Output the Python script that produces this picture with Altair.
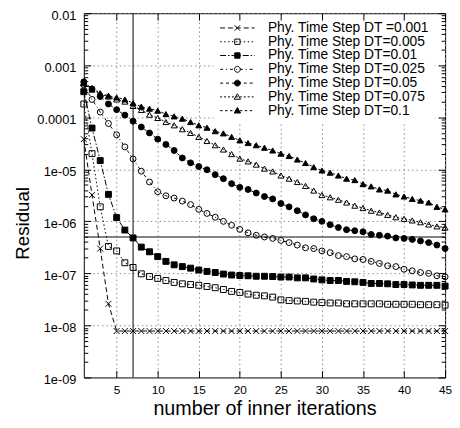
import altair as alt
import pandas as pd

FONT = "Liberation Sans"

iterations = list(range(1, 46))

series_names = [
    "Phy. Time Step DT =0.001",
    "Phy. Time Step DT=0.005",
    "Phy. Time Step DT=0.01",
    "Phy. Time Step DT=0.025",
    "Phy. Time Step DT=0.05",
    "Phy. Time Step DT=0.075",
    "Phy. Time Step DT=0.1",
]

dt_0001 = [3.8e-5, 3.2e-6, 3.0e-7, 2.6e-8, 7.8e-9, 7.8e-9, 7.8e-9, 7.8e-9, 7.8e-9, 7.8e-9,
           7.8e-9, 7.8e-9, 7.8e-9, 7.8e-9, 7.8e-9, 7.8e-9, 7.8e-9, 7.8e-9, 7.8e-9, 7.8e-9,
           7.8e-9, 7.8e-9, 7.8e-9, 7.8e-9, 7.8e-9, 7.8e-9, 7.8e-9, 7.8e-9, 7.8e-9, 7.8e-9,
           7.8e-9, 7.8e-9, 7.8e-9, 7.8e-9, 7.8e-9, 7.8e-9, 7.8e-9, 7.8e-9, 7.8e-9, 7.8e-9,
           7.8e-9, 7.8e-9, 7.8e-9, 7.8e-9, 7.8e-9]
dt_0005 = [1.8e-4, 2.0e-5, 1.9e-6, 3.3e-7, 2.7e-7, 1.6e-7, 1.3e-7, 9.8e-8, 8.7e-8, 8.0e-8,
           7.3e-8, 6.7e-8, 6.3e-8, 6.1e-8, 5.9e-8, 5.6e-8, 5.3e-8, 4.9e-8, 4.5e-8, 4.3e-8,
           4.0e-8, 3.8e-8, 3.7e-8, 3.5e-8, 3.1e-8, 3.0e-8, 2.95e-8, 2.9e-8, 2.8e-8, 2.75e-8,
           2.7e-8, 2.7e-8, 2.6e-8, 2.6e-8, 2.6e-8, 2.6e-8, 2.6e-8, 2.55e-8, 2.55e-8, 2.55e-8,
           2.55e-8, 2.5e-8, 2.5e-8, 2.5e-8, 2.45e-8]
dt_001 = [3.1e-4, 6.2e-5, 1.47e-5, 3.3e-6, 1.18e-6, 6.8e-7, 4.8e-7, 3.2e-7, 2.6e-7, 2.1e-7,
          1.7e-7, 1.46e-7, 1.35e-7, 1.26e-7, 1.16e-7, 1.09e-7, 1.04e-7, 9.7e-8, 9.3e-8, 9.1e-8,
          9.0e-8, 8.8e-8, 8.8e-8, 8.7e-8, 8.5e-8, 8.5e-8, 8.2e-8, 8.2e-8, 7.8e-8, 7.5e-8,
          7.3e-8, 7.3e-8, 7.0e-8, 6.9e-8, 6.7e-8, 6.4e-8, 6.4e-8, 6.3e-8, 6.1e-8, 6.1e-8,
          6.0e-8, 5.9e-8, 5.9e-8, 5.9e-8, 5.7e-8]
dt_0025 = [4.2e-4, 2.2e-4, 1.26e-4, 7.6e-5, 4.6e-5, 2.7e-5, 1.58e-5, 9.2e-6, 5.7e-6, 3.7e-6,
           3.1e-6, 2.8e-6, 2.45e-6, 2.1e-6, 1.7e-6, 1.42e-6, 1.2e-6, 1.0e-6, 8.4e-7, 7.0e-7,
           6.0e-7, 5.4e-7, 5.0e-7, 4.7e-7, 4.3e-7, 3.9e-7, 3.5e-7, 3.1e-7, 3.0e-7, 2.7e-7,
           2.5e-7, 2.2e-7, 2.1e-7, 1.9e-7, 1.85e-7, 1.7e-7, 1.55e-7, 1.4e-7, 1.35e-7, 1.2e-7,
           1.12e-7, 1.04e-7, 1.0e-7, 9.0e-8, 8.6e-8]
dt_005 = [4.8e-4, 3.5e-4, 2.5e-4, 1.8e-4, 1.4e-4, 1.1e-4, 8.4e-5, 6.5e-5, 5.0e-5, 3.8e-5,
          3.0e-5, 2.3e-5, 1.65e-5, 1.33e-5, 1.13e-5, 9.8e-6, 7.9e-6, 6.6e-6, 5.3e-6, 4.5e-6,
          4.1e-6, 3.5e-6, 3.0e-6, 2.7e-6, 2.2e-6, 1.9e-6, 1.6e-6, 1.33e-6, 1.12e-6, 1.0e-6,
          8.6e-7, 7.6e-7, 6.9e-7, 6.6e-7, 6.3e-7, 5.6e-7, 5.4e-7, 5.2e-7, 4.8e-7, 4.7e-7,
          4.5e-7, 4.2e-7, 3.9e-7, 3.5e-7, 3.0e-7]
dt_0075 = [4.5e-4, 3.4e-4, 2.8e-4, 2.5e-4, 2.2e-4, 2.0e-4, 1.65e-4, 1.38e-4, 1.12e-4, 9.7e-5,
           8.1e-5, 7.0e-5, 5.9e-5, 5.0e-5, 4.2e-5, 3.5e-5, 2.9e-5, 2.4e-5, 1.96e-5, 1.6e-5,
           1.42e-5, 1.23e-5, 1.03e-5, 9.1e-6, 7.6e-6, 6.6e-6, 5.7e-6, 4.8e-6, 3.9e-6, 3.2e-6,
           2.9e-6, 2.6e-6, 2.3e-6, 2.0e-6, 1.8e-6, 1.6e-6, 1.48e-6, 1.33e-6, 1.2e-6, 1.12e-6,
           1.04e-6, 9.6e-7, 8.7e-7, 8.0e-7, 7.6e-7]
dt_01 = [4.6e-4, 3.6e-4, 2.9e-4, 2.6e-4, 2.4e-4, 2.2e-4, 1.87e-4, 1.6e-4, 1.46e-4, 1.34e-4,
         1.15e-4, 1.04e-4, 9.4e-5, 8.1e-5, 7.0e-5, 6.3e-5, 5.4e-5, 4.9e-5, 4.2e-5, 3.6e-5,
         3.2e-5, 2.9e-5, 2.6e-5, 2.3e-5, 2.0e-5, 1.8e-5, 1.54e-5, 1.32e-5, 1.1e-5, 9.5e-6,
         8.6e-6, 7.6e-6, 6.6e-6, 6.2e-6, 5.2e-6, 4.7e-6, 4.1e-6, 3.9e-6, 3.3e-6, 3.0e-6,
         2.7e-6, 2.5e-6, 2.3e-6, 1.9e-6, 1.7e-6]

all_values = [dt_0001, dt_0005, dt_001, dt_0025, dt_005, dt_0075, dt_01]

x_ticks = [5, 10, 15, 20, 25, 30, 35, 40, 45]
y_decades = [1e-9, 1e-8, 1e-7, 1e-6, 1e-5, 1e-4, 1e-3, 1e-2]
marked_iteration = [7]
marked_residual = [5e-7]

rows = []
for name, vals in zip(series_names, all_values):
    for it, v in zip(iterations, vals):
        rows.append({"iter": it, "residual": v, "series": name})
df = pd.DataFrame(rows)

y_minor = [d * m for d in y_decades[:-1] for m in range(2, 10)]

# styles
dash_patterns = [[5, 3], [1.5, 2.5], [6, 2, 1.5, 2], [3, 3, 1, 3], [3, 3], [2, 2], [2.5, 2.5]]
cross_path = "M-1,-1L1,1M-1,1L1,-1"
plot_shapes = [cross_path, "square", "square", "circle", "circle", "triangle-up", "triangle-up"]
fills = ["transparent", "transparent", "black", "transparent", "black", "transparent", "black"]
strokes = ["black"] * 7

K = 6.0  # legend symbol px per path unit (symbol size = (2K)^2)


def dash_path(pattern, half=17.5):
    segs = []
    pos = -half
    i = 0
    while pos < half:
        ln = pattern[i % len(pattern)]
        end = min(pos + ln, half)
        if i % 2 == 0:
            segs.append(f"M{pos / K:.4f},0L{end / K:.4f},0")
        pos += ln
        i += 1
    return "".join(segs)


def marker_path(kind):
    if kind == "cross":
        a = 2.8 / K
        return f"M{-a:.4f},{-a:.4f}L{a:.4f},{a:.4f}M{-a:.4f},{a:.4f}L{a:.4f},{-a:.4f}"
    if kind == "square":
        a = 2.7 / K
        return f"M{-a:.4f},{-a:.4f}L{a:.4f},{-a:.4f}L{a:.4f},{a:.4f}L{-a:.4f},{a:.4f}Z"
    if kind == "circle":
        r = 3.0 / K
        return f"M{-r:.4f},0A{r:.4f},{r:.4f} 0 1,0 {r:.4f},0A{r:.4f},{r:.4f} 0 1,0 {-r:.4f},0Z"
    t = 3.2 / K
    return f"M0,{-t:.4f}L{t:.4f},{0.75 * t:.4f}L{-t:.4f},{0.75 * t:.4f}Z"


marker_kinds = ["cross", "square", "square", "circle", "circle", "triangle", "triangle"]
legend_paths = [dash_path(p) + marker_path(k) for p, k in zip(dash_patterns, marker_kinds)]

x_scale = alt.Scale(domain=[1, 45], nice=False, zero=False)
y_scale = alt.Scale(type="log", domain=[1e-9, 1e-2], nice=False)

grid_style = dict(grid=True, gridColor="#8a8a8a", gridDash=[1.5, 3], gridWidth=1)

x_main_axis = alt.Axis(
    values=x_ticks, ticks=False, tickSize=0, domain=False, labelFont=FONT, labelFontSize=12,
    labelColor="black", labelPadding=7, labelFlush=False, title="number of inner iterations",
    titleFont=FONT, titleFontSize=20, titleFontWeight="normal", titleColor="black",
    titleY=38, titleBaseline="alphabetic", **grid_style)
y_main_axis = alt.Axis(
    values=y_decades, ticks=False, tickSize=0, domain=False, labelFont=FONT, labelFontSize=13,
    labelColor="black", labelPadding=8, labelOffset=2.5,
    labelExpr="datum.value >= 0.0001 ? toString(datum.value) : '1e-0' + toString(-round(log(datum.value) / LN10))",
    title="Residual", titleFont=FONT, titleFontSize=19, titleFontWeight="normal",
    titleColor="black", titleX=-62, titleY=213, titleAlign="center", titleBaseline="middle",
    **grid_style)

lines = alt.Chart(df).mark_line(color="black", strokeWidth=1).encode(
    x=alt.X("iter:Q", scale=x_scale, axis=x_main_axis),
    y=alt.Y("residual:Q", scale=y_scale, axis=y_main_axis),
    strokeDash=alt.StrokeDash("series:N", scale=alt.Scale(domain=series_names, range=dash_patterns), legend=None),
    detail="series:N",
)

points = alt.Chart(df).mark_point(filled=True, stroke="black", strokeWidth=1, size=36, opacity=1).encode(
    x=alt.X("iter:Q", scale=x_scale, axis=None),
    y=alt.Y("residual:Q", scale=y_scale, axis=None),
    shape=alt.Shape("series:N", scale=alt.Scale(domain=series_names, range=plot_shapes), legend=None),
    fill=alt.Fill("series:N", scale=alt.Scale(domain=series_names, range=fills), legend=None),
)

legend_def = alt.Legend(
    orient="none", legendX=132, legendY=3, title=None, symbolSize=(2 * K) ** 2,
    symbolOffset=12, symbolStrokeColor="black", symbolStrokeWidth=1, symbolOpacity=1,
    labelFont=FONT, labelFontSize=14, labelColor="black", labelOffset=24, rowPadding=-2.4,
    padding=5, fillColor="white", strokeColor="white", labelLimit=300,
)

legend_layer = alt.Chart(df).transform_filter("datum.iter < 0").mark_point(
    filled=False, color="black", strokeWidth=1, opacity=1).encode(
    x=alt.X("iter:Q", scale=x_scale, axis=None),
    y=alt.Y("residual:Q", scale=y_scale, axis=None),
    shape=alt.Shape("series:N", scale=alt.Scale(domain=series_names, range=legend_paths), legend=legend_def),
    fill=alt.Fill("series:N", scale=alt.Scale(domain=series_names, range=fills), legend=legend_def),
    stroke=alt.Stroke("series:N", scale=alt.Scale(domain=series_names, range=strokes), legend=legend_def),
)

vline = alt.Chart(pd.DataFrame({"iter": marked_iteration})).mark_rule(color="black", strokeWidth=1).encode(
    x=alt.X("iter:Q", scale=x_scale, axis=None))
hline = alt.Chart(pd.DataFrame({"residual": marked_residual})).mark_rule(color="#5a5a5a", strokeWidth=1.5).encode(
    y=alt.Y("residual:Q", scale=y_scale, axis=None))


def tick_axis(orient, values, size):
    return alt.Axis(orient=orient, values=values, ticks=True, tickSize=size, offset=-size,
                    tickColor="black", tickWidth=1, labels=False, domain=False, grid=False,
                    title=None, zindex=2)


def tick_layer(x_axis, y_axis):
    return alt.Chart(df).transform_filter("datum.iter < 0").mark_point(opacity=0).encode(
        x=alt.X("iter:Q", scale=x_scale, axis=x_axis),
        y=alt.Y("residual:Q", scale=y_scale, axis=y_axis),
    )


t1 = tick_layer(tick_axis("bottom", x_ticks, 7), tick_axis("left", y_decades, 7))
t2 = tick_layer(tick_axis("top", x_ticks, 7), tick_axis("left", y_minor, 4))
t3 = tick_layer(None, tick_axis("right", y_decades, 7))
t4 = tick_layer(None, tick_axis("right", y_minor, 4))

chart = alt.layer(hline, vline, lines, points, legend_layer, t1, t2, t3, t4).resolve_axis(
    x="independent", y="independent"
).resolve_scale(
    shape="independent", fill="independent", stroke="independent"
).properties(
    width=367, height=370,
    autosize=alt.AutoSizeParams(type="none"),
    padding={"left": 77, "top": 2, "right": 7, "bottom": 44},
    background="white",
).configure_view(stroke="black", strokeWidth=1)

chart.save("out.html", embed_options={"renderer": "svg", "actions": False})
